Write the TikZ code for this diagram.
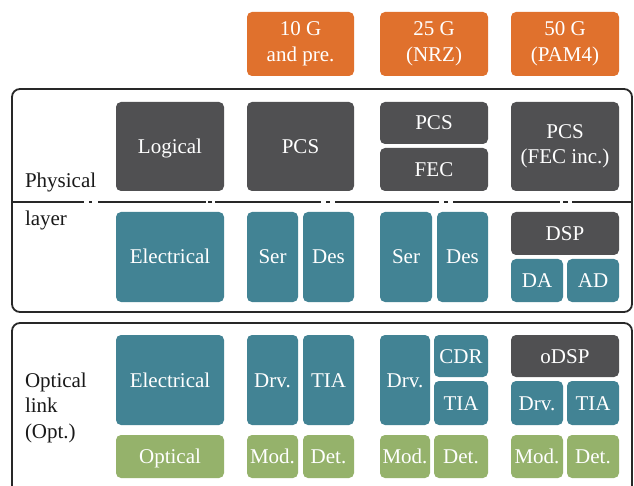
\documentclass[tikz,border=0pt]{standalone}
\usepackage{fontspec}
\setmainfont{Liberation Serif}
\definecolor{dk}{RGB}{80,80,82}
\definecolor{tl}{RGB}{66,131,148}
\definecolor{gn}{RGB}{149,178,107}
\definecolor{og}{RGB}{224,113,45}
\definecolor{frame}{RGB}{40,40,40}
\tikzset{
  bx/.style={rounded corners=5pt,draw=none,inner sep=0pt,outer sep=0pt,text=white,align=center,
    font=\fontsize{21}{25.5}\selectfont},
  one/.style={text height=14pt,text depth=0pt},
  lbl/.style={anchor=base west,inner sep=0pt,outer sep=0pt,text=black!90,font=\fontsize{21}{25.5}\selectfont},
  outer/.style={draw=frame,line width=1.8pt,rounded corners=8pt},
  sep/.style={draw=frame,line width=1.2pt}
}
\newcommand\blk[8][one]{\node[bx,#1,fill=#3,minimum width={(#6-#4)*1pt},minimum height={(#7-#5)*1pt}] (#2) at ({(#4+#6)/2},{(#5+#7)/2}) {#8};}
\begin{document}
\begin{tikzpicture}[x=1pt,y=-1pt]
\clip (0,0) rectangle (634,486);
\fill[white] (0,0) rectangle (634,486);
% outer frames
\draw[outer] (12,89) rectangle (632,312);
\draw[outer] (12,323) rectangle (632,500);
% separator
\coordinate (s0) at (12,202); \coordinate (s1) at (84,202);
\coordinate (d1a) at (89,202); \coordinate (d1b) at (92,202);
\coordinate (s2) at (98,202); \coordinate (s3) at (206,202);
\coordinate (d2a) at (208,202); \coordinate (d2b) at (212,202);
\coordinate (s4) at (215,202); \coordinate (s5) at (321,202);
\coordinate (d3a) at (326,202); \coordinate (d3b) at (330,202);
\coordinate (s6) at (335,202); \coordinate (s7) at (439,202);
\coordinate (d4a) at (444,202); \coordinate (d4b) at (448,202);
\coordinate (s8) at (453,202); \coordinate (s9) at (560,202);
\coordinate (d5a) at (563,202); \coordinate (d5b) at (568,202);
\coordinate (s10) at (572,202); \coordinate (s11) at (632,202);
\draw[sep] (s0)--(s1) (d1a)--(d1b) (s2)--(s3) (d2a)--(d2b) (s4)--(s5) (d3a)--(d3b)
  (s6)--(s7) (d4a)--(d4b) (s8)--(s9) (d5a)--(d5b) (s10)--(s11);
% headers
\blk[]{h1}{og}{247}{12}{354}{76}{10 G\\and pre.}
\blk[]{h2}{og}{380}{12}{488}{76}{25 G\\(NRZ)}
\blk[]{h3}{og}{511}{12}{619}{76}{50 G\\(PAM4)}
% labels
\node[lbl] (lp) at (25,188) {Physical};
\node[lbl] (ll) at (25,226) {layer};
\node[lbl] (lo1) at (25,387) {Optical};
\node[lbl] (lo2) at (25,412.5) {link};
\node[lbl] (lo3) at (25,438) {(Opt.)};
% physical layer, top row
\blk{logical}{dk}{116}{102}{224}{191}{Logical}
\blk{pcs1}{dk}{247}{102}{354}{191}{PCS}
\blk{pcs2}{dk}{380}{102}{488}{144}{PCS}
\blk{fec2}{dk}{380}{148}{488}{191}{FEC}
\blk[]{pcs3}{dk}{511}{102}{619}{191}{PCS\\(FEC inc.)}
% physical layer, bottom row
\blk{elec1}{tl}{116}{212}{224}{302}{Electrical}
\blk{ser1}{tl}{247}{212}{298}{302}{Ser}
\blk{des1}{tl}{303}{212}{354}{302}{Des}
\blk{ser2}{tl}{380}{212}{432}{302}{Ser}
\blk{des2}{tl}{437}{212}{488}{302}{Des}
\blk{dsp}{dk}{511}{212}{619}{255}{DSP}
\blk{da}{tl}{511}{259}{563}{302}{DA}
\blk{ad}{tl}{567}{259}{619}{302}{AD}
% optical link, electrical row
\blk{elec2}{tl}{116}{335}{224}{425}{Electrical}
\blk{drv1}{tl}{247}{335}{298}{425}{Drv.}
\blk{tia1}{tl}{303}{335}{354}{425}{TIA}
\blk{drv2}{tl}{380}{335}{430}{425}{Drv.}
\blk{cdr}{tl}{434}{335}{488}{377}{CDR}
\blk{tia2}{tl}{434}{381}{488}{425}{TIA}
\blk{odsp}{dk}{511}{335}{619}{377}{oDSP}
\blk{drv3}{tl}{511}{381}{563}{425}{Drv.}
\blk{tia3}{tl}{567}{381}{619}{425}{TIA}
% optical row
\blk{opt}{gn}{116}{435}{224}{478}{Optical}
\blk{mod1}{gn}{247}{435}{298}{478}{Mod.}
\blk{det1}{gn}{303}{435}{354}{478}{Det.}
\blk{mod2}{gn}{380}{435}{430}{478}{Mod.}
\blk{det2}{gn}{434}{435}{488}{478}{Det.}
\blk{mod3}{gn}{511}{435}{563}{478}{Mod.}
\blk{det3}{gn}{567}{435}{619}{478}{Det.}
\end{tikzpicture}
\end{document}
